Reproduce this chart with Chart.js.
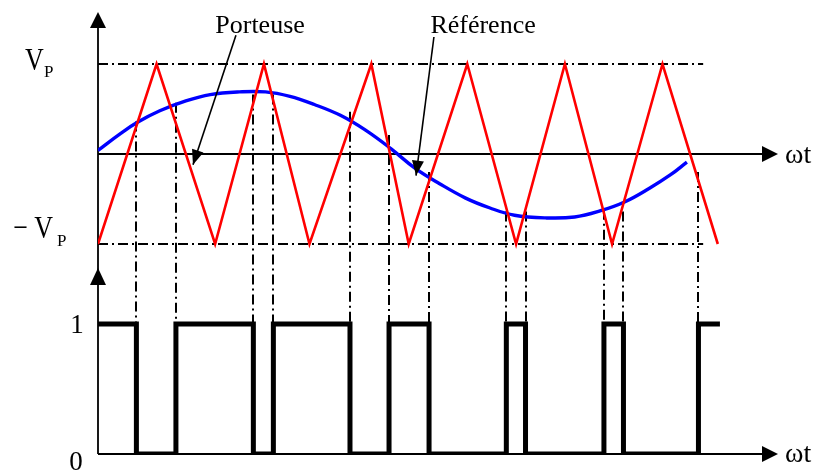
<!DOCTYPE html>
<html>
<head>
<meta charset="utf-8">
<script src="https://cdn.jsdelivr.net/npm/chart.js@4.4.1/dist/chart.umd.min.js"></script>
<style>
  html, body { margin: 0; padding: 0; background: #fff; }
  canvas { display: block; }
</style>
</head>
<body>
<canvas id="mli" width="821" height="472"></canvas>
<script>
// ωt in degrees, amplitudes in units of Vp

// porteuse triangulaire : sommets
const porteuseT = [0, 36, 72, 102, 130, 168, 191, 227, 257, 287, 316, 347, 381];
const porteuseV = [-1, 1, -1, 1, -1, 1, -1, 1, -1, 1, -1, 1, -1];

// référence sinusoïdale, relevée le long de la courbe
const refT = [0, 14, 24, 38, 54, 69, 87, 103, 118, 133, 149, 164, 180, 195, 210, 226, 241, 256, 275, 293, 309, 324, 339, 352, 362];
const refV = [0.04, 0.23, 0.35, 0.48, 0.59, 0.66, 0.69, 0.69, 0.64, 0.55, 0.43, 0.27, 0.06, -0.16, -0.33, -0.49, -0.60, -0.68, -0.71, -0.70, -0.63, -0.53, -0.38, -0.23, -0.09];

// instants de commutation et niveau de sortie qui suit
const switchT = [0, 23.6, 47.9, 95.5, 107.8, 154.9, 178.9, 203.5, 251, 262.8, 311, 323, 369.1, 382.3];
const switchV = [1, 0, 1, 0, 1, 0, 1, 0, 1, 0, 1, 0, 1, 1];

// départ haut de chaque trait vertical (sur la référence)
const guideTop = [0.36, 0.57, 0.66, 0.66, 0.47, 0.21, -0.20, -0.64, -0.64, -0.62, -0.64, -0.20];

// longueur des traits ±Vp
const vpEnd = 372;
// pointe de la flèche de l'axe du bas
const lowAxisTip = 1.43;

const pts = (xs, ys) => xs.map((x, i) => ({ x: x, y: ys[i] }));

const SERIF = '"Liberation Serif", "Times New Roman", serif';
const DASHDOT = [10, 4, 2, 4];

function tri(ctx, tx, ty, dx, dy, len, half) {
    // filled arrow head, tip at (tx,ty), pointing along (dx,dy)
    const n = Math.hypot(dx, dy);
    const ux = dx / n, uy = dy / n;
    const bx = tx - ux * len, by = ty - uy * len;
    ctx.beginPath();
    ctx.moveTo(tx, ty);
    ctx.lineTo(bx - uy * half, by + ux * half);
    ctx.lineTo(bx + uy * half, by - ux * half);
    ctx.closePath();
    ctx.fill();
}

// text drawn a little taller than the font
function tall(ctx, s, x, y, sy) {
    ctx.save();
    ctx.translate(x, y);
    ctx.scale(1, sy);
    ctx.fillText(s, 0, 0);
    ctx.restore();
}

const decor = {
    id: 'decor',
    beforeDatasetsDraw(chart) {
        const { ctx, chartArea: a } = chart;
        const x = chart.scales.x, y = chart.scales.y, y2 = chart.scales.y2;
        ctx.save();
        ctx.strokeStyle = '#000';
        ctx.fillStyle = '#000';

        // traits verticaux mixtes
        ctx.lineWidth = 2;
        ctx.setLineDash(DASHDOT);
        guideTop.forEach((v, i) => {
            const px = Math.round(x.getPixelForValue(switchT[i + 1]));
            ctx.beginPath();
            ctx.moveTo(px, y.getPixelForValue(v));
            ctx.lineTo(px, y2.getPixelForValue(1));
            ctx.stroke();
        });
        ctx.setLineDash([]);

        // axes
        ctx.lineWidth = 1.8;
        const x0 = x.getPixelForValue(0);
        ctx.beginPath();
        ctx.moveTo(x0, a.top + 6);
        ctx.lineTo(x0, a.bottom);
        [y.getPixelForValue(0), y2.getPixelForValue(0)].forEach(py => {
            ctx.moveTo(x0, py);
            ctx.lineTo(a.right - 8, py);
        });
        ctx.stroke();
        tri(ctx, x0, a.top, 0, -1, 16, 8);
        tri(ctx, x0, y2.getPixelForValue(lowAxisTip), 0, -1, 17, 8);
        tri(ctx, a.right, y.getPixelForValue(0), 1, 0, 16, 8);
        tri(ctx, a.right, y2.getPixelForValue(0), 1, 0, 16, 8);
        ctx.restore();
    },
    afterDatasetsDraw(chart) {
        const { ctx, chartArea: a } = chart;
        const x = chart.scales.x, y = chart.scales.y, y2 = chart.scales.y2;
        ctx.save();
        ctx.fillStyle = '#000';
        ctx.strokeStyle = '#000';
        ctx.textBaseline = 'alphabetic';

        // légendes fléchées
        const notes = [
            { text: 'Porteuse', tx: 99.6, from: [84.8, 1.32], to: [58.4, -0.12] },
            { text: 'Référence', tx: 236.7, from: [206.5, 1.30], to: [195.5, -0.24] }
        ];
        ctx.font = '26px ' + SERIF;
        ctx.textAlign = 'center';
        ctx.lineWidth = 1.6;
        notes.forEach(n => {
            ctx.fillText(n.text, x.getPixelForValue(n.tx), y.getPixelForValue(1.344));
            const sx = x.getPixelForValue(n.from[0]), sy = y.getPixelForValue(n.from[1]);
            const ex = x.getPixelForValue(n.to[0]), ey = y.getPixelForValue(n.to[1]);
            ctx.beginPath();
            ctx.moveTo(sx, sy);
            ctx.lineTo(ex, ey);
            ctx.stroke();
            tri(ctx, ex, ey, ex - sx, ey - sy, 15, 6);
        });

        // Vp, -Vp
        const yp = y.getPixelForValue(1), ym = y.getPixelForValue(-1);
        ctx.textAlign = 'left';
        ctx.font = '26px ' + SERIF;
        tall(ctx, 'V', 25, yp + 6, 1.25);
        tall(ctx, '\u2212 V', 13, ym - 6, 1.25);
        ctx.font = '17px ' + SERIF;
        ctx.fillText('P', 44, yp + 13);
        ctx.fillText('P', 57, ym + 2);

        // niveaux 1 et 0
        ctx.textAlign = 'center';
        ctx.font = '27px ' + SERIF;
        ctx.fillText('1', 77, y2.getPixelForValue(1) + 9);
        ctx.fillText('0', 76, y2.getPixelForValue(0) + 16);

        // ωt
        ctx.textAlign = 'left';
        ctx.font = '28px ' + SERIF;
        ctx.fillText('\u03c9t', a.right + 7, y.getPixelForValue(0) + 9);
        ctx.fillText('\u03c9t', a.right + 7, y2.getPixelForValue(0) + 8);
        ctx.restore();
    }
};

new Chart(document.getElementById('mli'), {
    type: 'line',
    data: {
        datasets: [
            {
                label: 'Porteuse',
                data: pts(porteuseT, porteuseV),
                borderColor: '#ff0000',
                borderWidth: 2.6,
                borderJoinStyle: 'miter',
                tension: 0
            },
            {
                label: 'Référence',
                data: pts(refT, refV),
                borderColor: '#0000ff',
                borderWidth: 3.4,
                tension: 0.4
            },
            {
                label: 'Commande',
                data: pts(switchT, switchV),
                yAxisID: 'y2',
                stepped: true,
                borderColor: '#000',
                borderWidth: 5,
                borderJoinStyle: 'miter'
            },
            {
                label: 'Vp',
                data: [{ x: 0, y: 1 }, { x: vpEnd, y: 1 }],
                borderColor: '#000',
                borderWidth: 2,
                borderDash: DASHDOT
            },
            {
                label: '-Vp',
                data: [{ x: 0, y: -1 }, { x: vpEnd, y: -1 }],
                borderColor: '#000',
                borderWidth: 2,
                borderDash: DASHDOT
            }
        ]
    },
    options: {
        responsive: false,
        animation: false,
        devicePixelRatio: 1,
        layout: { padding: { left: 98, right: 43, top: 12, bottom: 18 } },
        elements: { point: { radius: 0 } },
        plugins: { legend: { display: false }, tooltip: { enabled: false } },
        scales: {
            x: { type: 'linear', min: 0, max: 418, display: false },
            y: { min: -3.3333, max: 1.5778, display: false },
            y2: { min: 0, max: 3.4, display: false }
        }
    },
    plugins: [decor]
});
</script>
</body>
</html>
